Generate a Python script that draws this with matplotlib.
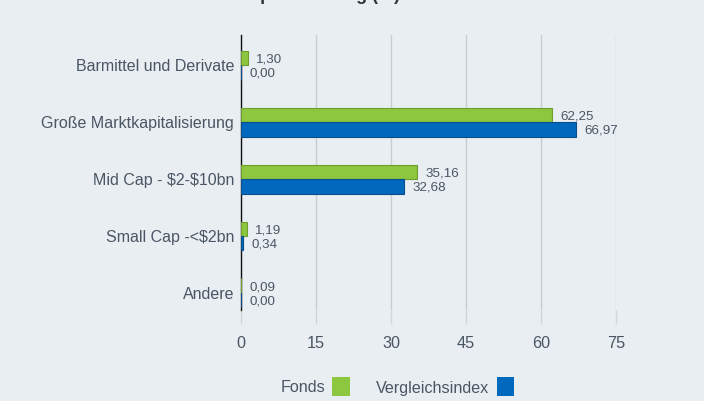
import matplotlib
matplotlib.use("Agg")
import matplotlib.pyplot as plt
from matplotlib.patches import Rectangle
import numpy as np

plt.rcParams["font.family"] = ["Liberation Sans", "DejaVu Sans"]

categories = ["Barmittel und Derivate", "Große Marktkapitalisierung", "Mid Cap - \\$2-\\$10bn",
              "Small Cap -<\\$2bn", "Andere"]
fonds = [1.30, 62.25, 35.16, 1.19, 0.09]
index = [0.00, 66.97, 32.68, 0.34, 0.00]
series_names = ["Fonds", "Vergleichsindex"]
xticks = [0, 15, 30, 45, 60, 75]

bg = "#E9EEF2"
green, green_edge = "#8DC63F", "#6E9E2E"
blue, blue_edge = "#0068BD", "#0A4F8C"
txt = "#4A5663"

W, H = 704, 401
fig = plt.figure(figsize=(W/100, H/100), dpi=100, facecolor=bg)
ax = fig.add_axes([241/W, 1-310/H, 375/W, 275/H])
ax.set_facecolor(bg)

y = np.arange(len(categories))
h = 0.254
ax.barh(y - h/2, fonds, height=h, color=green, edgecolor=green_edge, linewidth=0.8, zorder=3)
ax.barh(y + h/2, index, height=h, color=blue, edgecolor=blue_edge, linewidth=0.8, zorder=3)

def fmt(v):
    return f"{v:.2f}".replace(".", ",")

for i in range(len(categories)):
    ax.annotate(fmt(fonds[i]), (fonds[i], y[i] - h/2), xytext=(6, -1), textcoords="offset points",
                va="center", ha="left", fontsize=9.6, color=txt, zorder=4)
    ax.annotate(fmt(index[i]), (index[i], y[i] + h/2), xytext=(6, -1), textcoords="offset points",
                va="center", ha="left", fontsize=9.6, color=txt, zorder=4)

ax.set_xlim(0, 75)
ax.set_ylim(4.3, -0.53)
ax.set_xticks(xticks)
ax.set_xticklabels([str(t) for t in xticks])
ax.set_yticks(y)
ax.set_yticklabels(categories)
ax.xaxis.grid(True, color="#C9CDD1", linewidth=1.0, zorder=0)
ax.tick_params(axis="x", length=10, color="#D3D6D9", width=1.0, pad=9, labelsize=11.7, labelcolor=txt)
ax.tick_params(axis="y", length=0, pad=5, labelsize=11.5, labelcolor=txt)
for s in ["top", "right", "bottom"]:
    ax.spines[s].set_visible(False)
ax.spines["left"].set_color("#111111")
ax.spines["left"].set_linewidth(1.0)
ax.spines["left"].set_zorder(2)

# title (clipped at top in the reference)
fig.text(400/W, 1-0.5/H, "Marktkapitalisierung (%)", ha="right", va="baseline",
         fontsize=13, fontweight="bold", color="#333333")

# legend
fig.text(325/W, 1-388/H, series_names[0], ha="right", va="center", fontsize=11.6, color=txt)
fig.patches.append(Rectangle((332/W, 1-396/H), 18/W, 19/H, transform=fig.transFigure,
                             facecolor=green, edgecolor="none"))
fig.text(489/W, 1-388/H, series_names[1], ha="right", va="center", fontsize=11.6, color=txt)
fig.patches.append(Rectangle((497/W, 1-396/H), 17/W, 19/H, transform=fig.transFigure,
                             facecolor=blue, edgecolor="none"))

fig.savefig("out.png", dpi=100, facecolor=bg)
